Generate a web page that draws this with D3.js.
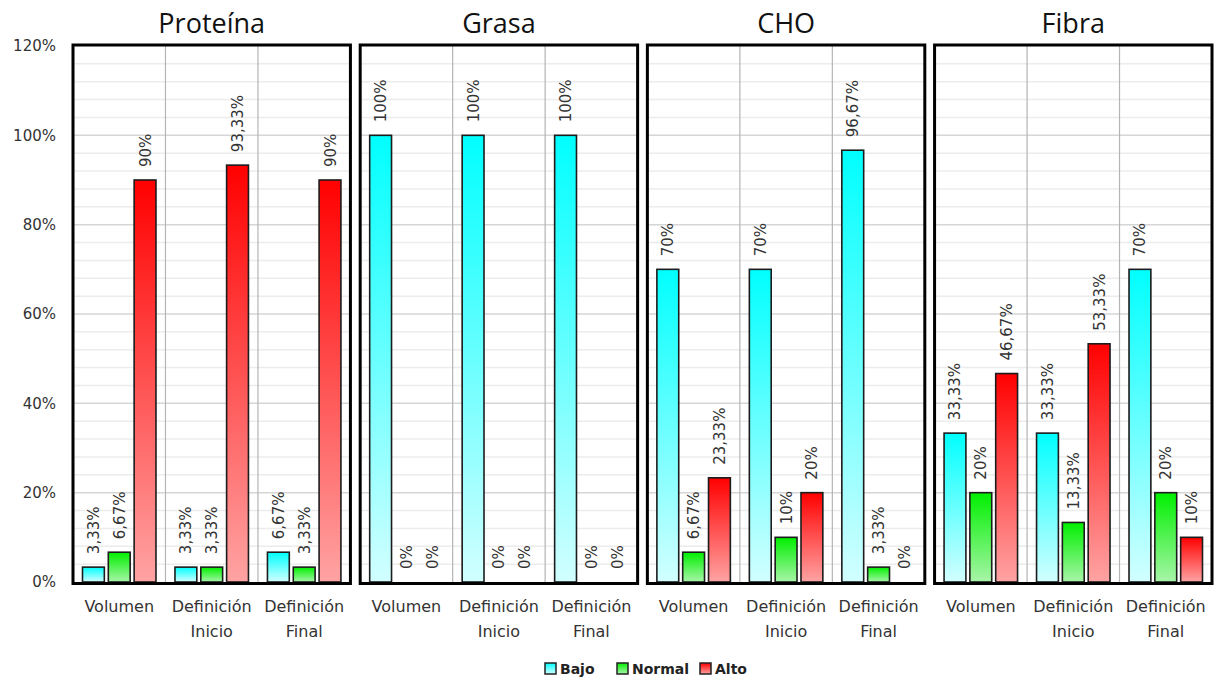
<!DOCTYPE html>
<html>
<head>
<meta charset="utf-8">
<script src="https://cdn.jsdelivr.net/npm/d3@7"></script>
<style>
  html, body { margin: 0; padding: 0; background: #fff; }
  svg { display: block; }
</style>
</head>
<body>
<svg id="chart" width="1215" height="677"></svg>
<script>
// Panels (nutrients) and categories (phases)
const panels = ["Proteína", "Grasa", "CHO", "Fibra"];
const categories = [["Volumen"], ["Definición", "Inicio"], ["Definición", "Final"]];
const seriesNames = ["Bajo", "Normal", "Alto"];

// Percentages per panel, one array per series (Volumen, Def. Inicio, Def. Final)
const proteinaBajo   = [3.33, 3.33, 6.67];
const proteinaNormal = [6.67, 3.33, 3.33];
const proteinaAlto   = [90, 93.33, 90];

const grasaBajo   = [100, 100, 100];
const grasaNormal = [0, 0, 0];
const grasaAlto   = [0, 0, 0];

const choBajo   = [70, 70, 96.67];
const choNormal = [6.67, 10, 3.33];
const choAlto   = [23.33, 20, 0];

const fibraBajo   = [33.33, 33.33, 70];
const fibraNormal = [20, 13.33, 20];
const fibraAlto   = [46.67, 53.33, 10];

const yTicks = [0, 20, 40, 60, 80, 100, 120];

const panelData = [
  [proteinaBajo, proteinaNormal, proteinaAlto],
  [grasaBajo, grasaNormal, grasaAlto],
  [choBajo, choNormal, choAlto],
  [fibraBajo, fibraNormal, fibraAlto]
];

const svg = d3.select("#chart");

// Gradients: saturated at the top, pale at the base
const gradStops = {
  Bajo:   ["#00ffff", "#d2ffff"],
  Normal: ["#00f000", "#a8f5a8"],
  Alto:   ["#ff0000", "#ffa3a3"]
};
const defs = svg.append("defs");
seriesNames.forEach(s => {
  const g = defs.append("linearGradient")
    .attr("id", "grad-" + s).attr("x1", 0).attr("y1", 0).attr("x2", 0).attr("y2", 1);
  g.append("stop").attr("offset", "0%").attr("stop-color", gradStops[s][0]);
  g.append("stop").attr("offset", "100%").attr("stop-color", gradStops[s][1]);
});

const y = d3.scaleLinear().domain([0, 120]).range([582, 46]);

const px = d3.scaleBand().domain(panels).range([73, 1212]).paddingInner(0.034);

const fmt = v => (Number.isInteger(v) ? String(v) : v.toFixed(2).replace(".", ",")) + "%";

// Y axis labels
const yAxis = d3.axisLeft(y).tickValues(yTicks).tickFormat(d => d + "%").tickSize(0).tickPadding(0);
const yg = svg.append("g").attr("transform", "translate(56,0)").call(yAxis);
yg.select(".domain").remove();
yg.selectAll("text")
  .attr("font-family", "DejaVu Sans, Verdana, sans-serif")
  .attr("font-size", 15)
  .attr("fill", "#333");

panels.forEach((name, pi) => {
  const x0 = px(name);
  const w = px.bandwidth();
  const g = svg.append("g").attr("transform", `translate(${x0},0)`);

  const xc = d3.scaleBand().domain(d3.range(categories.length)).range([0, w]);
  const pad = 9.5;
  const xs = d3.scaleBand().domain(seriesNames)
    .range([pad, xc.bandwidth() - pad]).paddingInner(0.154);

  // Grid lines every 4%
  const grid = d3.range(4, 120, 4);
  g.selectAll("line.grid").data(grid).join("line")
    .attr("class", "grid")
    .attr("x1", 0).attr("x2", w)
    .attr("y1", d => y(d)).attr("y2", d => y(d))
    .attr("stroke", d => d % 20 === 0 ? "#d6d6d6" : "#ececec")
    .attr("stroke-width", 1.5);

  // Category separators
  g.selectAll("line.sep").data(d3.range(1, categories.length)).join("line")
    .attr("class", "sep")
    .attr("x1", d => xc(d)).attr("x2", d => xc(d))
    .attr("y1", y(120)).attr("y2", y(0))
    .attr("stroke", "#b4b4b4").attr("stroke-width", 1.2);

  // Bars
  const rows = [];
  panelData[pi].forEach((vals, si) => {
    vals.forEach((v, ci) => rows.push({ s: seriesNames[si], c: ci, v }));
  });
  g.selectAll("rect.bar").data(rows).join("rect")
    .attr("class", "bar")
    .attr("x", d => xc(d.c) + xs(d.s))
    .attr("width", xs.bandwidth())
    .attr("y", d => y(d.v))
    .attr("height", d => y(0) - y(d.v))
    .attr("fill", d => `url(#grad-${d.s})`)
    .attr("stroke", "#1c1c1c")
    .attr("stroke-width", d => d.v > 0 ? 1.6 : 0);

  // Value labels (rotated)
  g.selectAll("text.val").data(rows).join("text")
    .attr("class", "val")
    .attr("transform", d => `translate(${xc(d.c) + xs(d.s) + xs.bandwidth() / 2 + 5.5},${y(d.v) - 13}) rotate(-90)`)
    .attr("text-anchor", "start")
    .attr("font-family", "DejaVu Sans, Verdana, sans-serif")
    .attr("font-size", 15)
    .attr("fill", "#333")
    .text(d => fmt(d.v));

  // Frame
  g.append("rect")
    .attr("x", 0).attr("y", 45).attr("width", w).attr("height", 583 - 45 + 0.5)
    .attr("fill", "none").attr("stroke", "#000").attr("stroke-width", 3);

  // Title
  g.append("text")
    .attr("x", w / 2).attr("y", 33)
    .attr("text-anchor", "middle")
    .attr("font-family", "Open Sans, sans-serif")
    .attr("font-size", 27)
    .attr("fill", "#111")
    .text(name);

  // Category labels
  const cl = g.selectAll("text.cat").data(categories).join("text")
    .attr("class", "cat")
    .attr("text-anchor", "middle")
    .attr("font-family", "DejaVu Sans, Verdana, sans-serif")
    .attr("font-size", 16)
    .attr("fill", "#333");
  cl.each(function(lines, i) {
    d3.select(this).selectAll("tspan").data(lines).join("tspan")
      .attr("x", xc(i) + xc.bandwidth() / 2)
      .attr("y", (d, k) => 612 + k * 25)
      .text(d => d);
  });
});

// Legend
const legendX = [545, 617, 700];
const lg = svg.append("g");
seriesNames.forEach((s, i) => {
  lg.append("rect")
    .attr("x", legendX[i]).attr("y", 663).attr("width", 11).attr("height", 11)
    .attr("fill", `url(#grad-${s})`)
    .attr("stroke", "#222").attr("stroke-width", 1.5);
  lg.append("text")
    .attr("x", legendX[i] + 15).attr("y", 674)
    .attr("font-family", "DejaVu Sans, Verdana, sans-serif")
    .attr("font-weight", "bold")
    .attr("font-size", 14)
    .attr("fill", "#222")
    .text(s);
});
</script>
</body>
</html>
